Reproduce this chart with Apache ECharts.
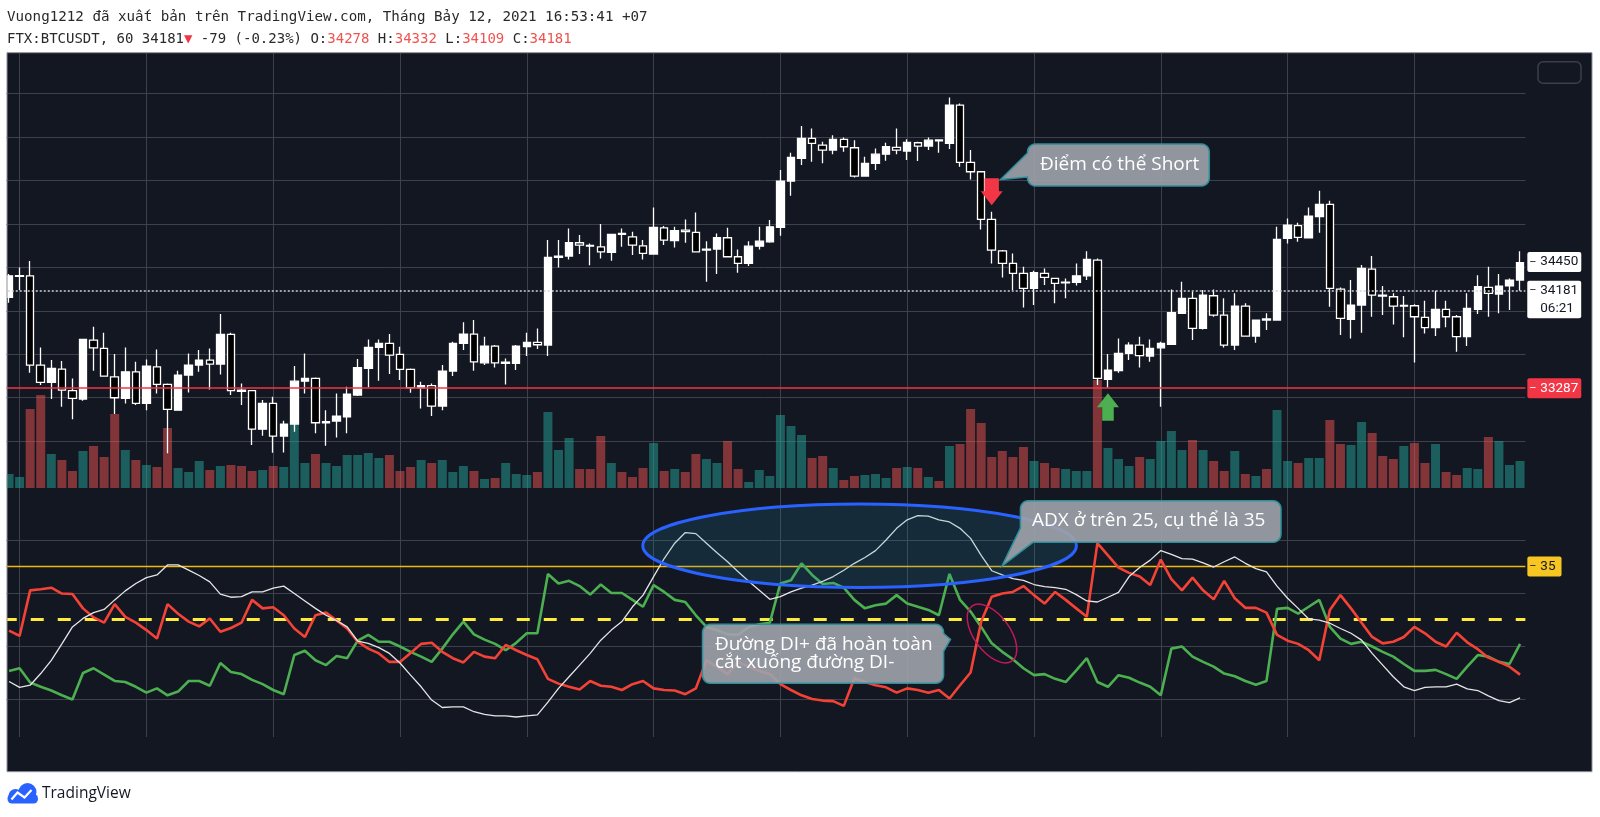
<!DOCTYPE html>
<html><head><meta charset="utf-8">
<script src="https://cdn.jsdelivr.net/npm/echarts@6/dist/echarts.min.js"></script>
<style>html,body{margin:0;padding:0;background:#fff;}#c{width:1600px;height:817px;}</style>
</head><body><div id="c"></div>
<script>
// ---------------- DATA ----------------
const opens = [34123,34316,34322,33500,33340,33463,33264,33187,33730,33653,33392,33193,33438,33147,33484,33322,33085,33408,33500,33546,33509,33782,33270,33264,32910,33147,32846,32957,33352,33377,32969,32984,33024,33224,33469,33662,33699,33598,33460,33291,33310,33122,33445,33699,33785,33521,33675,33515,33515,33669,33708,33684,34491,34503,34626,34602,34589,34537,34712,34681,34598,34522,34764,34645,34743,34721,34559,34568,34672,34497,34436,34595,34635,34767,35194,35403,35587,35525,35479,35578,35501,35240,35357,35442,35504,35470,35547,35516,35574,35541,35894,35366,35280,34841,34552,34436,34344,34206,34344,34298,34258,34261,34322,34467,33368,33448,33607,33684,33583,33659,33690,33976,34114,33837,34138,33960,33684,34043,33767,33926,33914,34666,34783,34672,34866,34979,34200,33920,34052,34384,34144,34129,34043,34046,33939,33844,34012,33945,33761,34012,34215,34154,34230,34282];
const closes = [34322,34322.5,33500,33340,33469,33270,33193,33736,33659,33399,33199,33438,33147,33491,33322,33092,33408,33500,33546,33509,33782,33264,33257,32910,33147,32846,32957,33352,33377,32969,32978,33030,33233,33475,33662,33699,33592,33460,33291,33310,33122,33445,33699,33785,33530,33675,33521,33527,33675,33708,33687,34491,34503,34626,34605,34595,34543,34703,34703,34605,34528,34767,34651,34737,34728,34543,34568,34672,34497,34436,34595,34641,34773,35194,35412,35587,35541,35479,35578,35510,35240,35357,35442,35510,35479,35550,35516,35571,35565,35894,35366,35280,34841,34559,34436,34344,34206,34350,34307,34252,34264,34322,34473,33377,33454,33607,33684,33586,33653,33699,33982,34114,33837,34144,33960,33684,34043,33767,33914,33914.5,34657,34789,34675,34872,34979,34206,33929,34052,34390,34144,34135,34043,34049,33945,33844,34012,33945,33761,34021,34221,34160,34227,34282,34442];
const lows = [34074,34190,33429,33316,33187,33116,33000,33171,33448,33392,33049,33147,33132,33085,33239,32687,33079,33248,33438,33276,33414,33224,33132,32763,32849,32693,32696,32886,33239,32871,32757,32834,32871,33215,33294,33356,33417,33362,33245,33101,33030,33085,33399,33638,33448,33500,33478,33322,33454,33583,33647,33583,34399,34473,34522,34420,34482,34460,34589,34513,34473,34516,34605,34583,34626,34537,34267,34338,34491,34350,34411,34565,34626,34691,35059,35341,35372,35357,35442,35464,35228,35234,35295,35381,35442,35387,35378,35479,35455,35489,35326,35209,34749,34436,34307,34190,34031,34052,34236,34068,34114,34233,34282,33316,33294,33429,33546,33478,33530,33116,33684,33969,33730,33828,33945,33662,33638,33761,33705,33822,33908,34620,34635,34666,34718,34037,33776,33745,33798,33945,33960,33874,33755,33524,33791,33767,33847,33623,33675,33969,33945,33976,34006,34184];
const highs = [34338,34399,34457,33662,33546,33537,33377,33742,33853,33798,33601,33662,33530,33552,33644,33331,33448,33607,33638,33653,33969,33798,33331,33270,33178,33208,32987,33491,33607,33386,33085,33239,33300,33555,33736,33736,33785,33669,33469,33346,33331,33500,33715,33893,33914,33761,33684,33561,33684,33798,33837,34651,34651,34758,34697,34620,34798,34706,34758,34727,34651,34951,34780,34773,34841,34905,34641,34712,34764,34565,34641,34773,34835,35295,35455,35700,35679,35556,35617,35596,35571,35418,35495,35547,35679,35578,35556,35596,35578,35964,35909,35479,35285,34912,34560,34528,34405,34368,34390,34304,34298,34436,34549,34482,33601,33745,33709,33761,33736,33715,34196,34267,34175,34190,34196,34114,34160,34068,33920,33976,34773,34850,34810,34951,35105,35013,34215,34282,34421,34503,34227,34160,34135,34061,34092,34184,34092,33960,34160,34328,34405,34338,34298,34549];
const volumes = [140,110,790,930,340,280,170,370,420,310,740,380,280,230,210,600,200,160,270,180,220,230,220,170,180,220,210,640,250,340,250,220,330,330,350,300,330,170,210,280,250,280,160,220,170,90,100,250,140,130,160,760,380,500,190,190,520,250,160,110,200,450,170,190,160,340,290,250,470,190,60,180,120,730,620,530,300,320,200,80,120,130,140,100,200,210,200,110,70,420,440,790,650,310,370,310,410,270,250,200,190,170,170,1080,400,290,220,310,290,470,570,380,480,380,270,170,370,140,120,190,780,270,250,300,300,680,440,430,660,550,320,290,420,450,250,440,160,130,200,190,510,470,230,270];
const plusDI = [15.3,15.8,13.1,12.3,11.6,10.7,9.9,14.9,15.8,14.6,13.4,13.2,12.3,11.2,12.0,10.7,11.4,13.4,13.4,12.5,16.8,15.1,14.7,13.6,12.8,11.7,10.9,18.3,19.1,17.3,16.4,18.1,17.7,21.0,22.1,20.8,20.8,19.9,18.9,18.0,17.0,19.5,22.2,24.6,22.2,21.2,20.4,19.2,20.6,22.4,22.4,33.6,31.8,32.3,31.3,29.7,31.6,30.0,30.0,28.7,27.4,31.5,30.2,28.7,28.3,25.8,23.6,23.0,22.2,22.1,23.6,24.1,24.4,31.8,32.4,35.6,33.4,31.7,31.9,31.0,28.7,27.1,27.7,28.0,29.6,28.0,27.4,26.8,25.8,33.6,28.7,26.5,23.6,20.5,18.9,17.5,15.8,14.5,14.7,13.8,13.2,15.4,17.7,13.2,12.3,14.5,14.0,13.1,12.3,10.7,19.5,19.9,18.0,17.0,16.1,14.8,14.3,13.4,12.7,13.4,27.0,27.2,26.1,27.4,28.7,23.6,21.4,20.4,20.8,19.9,18.9,18.0,16.6,15.3,15.3,15.5,14.7,13.8,16.1,18.3,18.0,17.0,16.6,20.4];
const minusDI = [22.9,21.9,30.5,30.7,31.0,29.9,29.8,27.1,25.4,24.4,27.9,25.5,24.4,23.0,21.4,27.9,26.1,24.6,23.7,25.2,22.7,23.4,24.4,28.7,27.1,27.3,25.8,23.3,21.7,25.8,26.3,24.8,23.3,20.8,19.5,18.6,17.0,17.0,18.7,20.4,20.6,18.9,17.7,16.9,18.9,18.0,17.7,20.2,19.2,18.3,17.5,13.8,12.9,12.3,11.8,13.4,12.5,12.3,11.7,12.8,13.4,12.0,11.7,11.6,10.9,12.0,17.3,16.1,14.7,17.0,16.1,15.3,14.7,12.8,11.7,10.7,10.0,9.7,9.6,8.7,13.9,13.2,12.6,12.2,11.2,12.0,11.7,11.2,11.7,10.1,12.6,15.0,24.6,29.3,29.9,30.2,31.3,29.6,28.0,30.2,28.7,27.1,25.5,39.4,37.1,34.8,33.8,33.1,31.5,36.3,32.6,30.5,32.9,30.5,28.8,32.3,29.0,27.2,27.2,26.3,22.1,21.0,20.4,19.2,17.3,26.8,29.6,27.1,24.4,21.7,20.5,20.8,21.7,23.6,22.4,20.8,19.9,22.5,20.7,19.4,17.8,17.0,16.1,14.6];
const adx = [13.3,12.2,12.6,14.8,17.3,20.4,23.6,25.2,26.3,26.9,28.7,30.4,31.8,32.9,33.4,35.3,35.3,34.3,33.3,32.1,29.8,29.2,29.3,30.2,30.2,30.9,31.3,29.9,28.5,27.1,25.8,24.8,23.6,20.9,20.5,19.7,18.6,16.8,14.5,12.3,9.8,8.4,8.5,8.5,7.6,7.1,6.8,6.8,6.6,6.8,7.0,9.4,12.0,14.2,16.4,18.6,21.1,23.0,24.6,27.4,29.6,33.1,36.5,39.4,41.4,41.2,39.4,37.6,35.9,34.0,32.2,30.5,28.8,29.3,30.2,30.9,31.5,32.2,33.1,34.3,35.6,36.7,38.0,40.0,42.2,43.8,44.6,44.5,43.8,43.4,42.2,40.3,37.1,34.2,33.4,32.7,32.4,31.6,31.2,31.0,30.7,29.7,28.5,28.3,29.2,30.1,33.1,34.8,36.2,38.0,37.3,36.5,36.4,35.7,34.9,35.9,36.8,35.6,34.6,34.0,31.3,29.0,27.1,25.1,24.9,24.3,23.3,22.4,21.1,18.6,16.4,14.2,12.3,11.6,12.2,12.3,12.3,12.8,11.9,11.6,10.6,9.7,9.3,10.2];
const priceGridLevels = [32800,33200,33600,34000,34400,34800,35200,35600,36000];
const adxGridLevels = [10,20,30,40];
const timeGridIdx = [1,13,25,37,49,61,73,85,97,109,121,133];
const supportLevel = 33287;
const lastPrice = 34181;
const lastPriceTimer = '06:21';
const markedPrice = 34450;
const adxStrong = 35;
const adxTrend = 25;
const shortSignal = {idx: 93, price: 35096};
const bounceSignal = {idx: 104, price: 33114};
const headerLine1 = 'Vuong1212 đã xuất bản trên TradingView.com, Tháng Bảy 12, 2021 16:53:41 +07';
const ohlcHeader = {symbol: 'FTX:BTCUSDT, 60', price: '34181', change: '-79 (-0.23%)', o: '34278', h: '34332', l: '34109', c: '34181'};

// hourly categories ending at 2021-07-12 16:00
const categories = [];
(function(){
  const end = Date.UTC(2021, 6, 12, 16, 0);
  for (let i = 0; i < opens.length; i++) {
    const d = new Date(end - (opens.length - 1 - i) * 3600000);
    categories.push(String(d.getUTCDate()).padStart(2,'0') + ' ' + String(d.getUTCHours()).padStart(2,'0') + ':00');
  }
})();

// ---------------- CHART ----------------
const X_LEFT = 3.75, X_W = 1521.6;
const GRID_COLOR = '#3d414c';
const UP_VOL = 'rgba(38,166,154,0.5)', DOWN_VOL = 'rgba(239,83,80,0.5)';
const candleData = categories.map((_, i) => [opens[i], closes[i], lows[i], highs[i]]);
const blank = categories.map(() => '-');

function boxLabel(text, bg, fg, padRight) {
  return {
    show: true, position: 'end', distance: 2, opacity: 1,
    formatter: '{t|–}{v|' + text + '}',
    backgroundColor: bg, padding: [3, padRight, 3, 2], borderRadius: 2,
    rich: {
      t: {color: fg, fontSize: 11, width: 11, fontFamily: 'Roboto'},
      v: {color: fg, fontSize: 13.5, lineHeight: 14, fontFamily: 'Roboto'}
    }
  };
}

function arc(cx, cy, r, a0, a1) {
  const pts = [];
  for (let k = 0; k <= 6; k++) {
    const a = (a0 + (a1 - a0) * k / 6) * Math.PI / 180;
    pts.push([cx + r * Math.cos(a), cy + r * Math.sin(a)]);
  }
  return pts;
}
const callout1 = [].concat(arc(1035.5,152,8,180,270), arc(1201.3,152,8,270,360), arc(1201.3,178,8,0,90), arc(1035.5,178,8,90,180), [[1027.5,177],[1000.5,179.5],[1027.5,153]]);
const callout2 = [].concat(arc(1028.4,508.7,8,180,270), arc(1273,508.7,8,270,360), arc(1273,534.3,8,0,90), [[1033,542.3],[1002,566],[1020.4,528]]);
const callout3 = [].concat(arc(710.5,632.3,8,180,270), arc(935.6,632.3,8,270,360), [[943.6,633.5],[950.5,639.3],[943.6,651.5]], arc(935.6,675.3,8,0,90), arc(710.5,675.3,8,90,180));

const chart = echarts.init(document.getElementById('c'), null, {renderer: 'canvas'});

const mono = 'DejaVu Sans Mono';
const hdr1 = {fontFamily: mono, fontSize: 14.2, color: '#2a2a2a', lineHeight: 16, fontWeight: 'normal'};
const hdr = {fontFamily: mono, fontSize: 14, color: '#2a2a2a', lineHeight: 16, fontWeight: 'normal'};
const hdrR = Object.assign({}, hdr, {color: '#ef5350'});

const calloutFill = 'rgba(160,163,172,0.9)';
const calloutStroke = '#2d8f9c';
const calloutFont = {fontSize: 19, fontFamily: 'Open Sans', fill: '#ffffff'};

const option = {
  animation: false,
  backgroundColor: '#ffffff',
  title: [
    {text: headerLine1, left: 7, top: 9.5, padding: 0, textStyle: hdr1},
    {text: '{a|' + ohlcHeader.symbol + ' ' + ohlcHeader.price + '}{tri|▼}{a| ' + ohlcHeader.change + ' O:}{r|' + ohlcHeader.o + '}{a| H:}{r|' + ohlcHeader.h + '}{a| L:}{r|' + ohlcHeader.l + '}{a| C:}{r|' + ohlcHeader.c + '}',
     left: 7, top: 31.5, padding: 0,
     textStyle: {fontWeight: 'normal', rich: {a: hdr, r: hdrR, tri: Object.assign({}, hdr, {color: '#f23645'})}}}
  ],
  grid: [
    {left: X_LEFT, width: X_W, top: 52.7, height: 435.3},
    {left: X_LEFT, width: X_W, top: 288, height: 200},
    {left: X_LEFT, width: X_W, top: 488, height: 249}
  ],
  xAxis: [0, 1, 2].map(g => ({type: 'category', gridIndex: g, data: categories, boundaryGap: true, show: false})),
  yAxis: [
    {type: 'value', gridIndex: 0, min: 32368, max: 36376, show: false, splitLine: {show: false}},
    {type: 'value', gridIndex: 1, min: 0, max: 2000, show: false, splitLine: {show: false}},
    {type: 'value', gridIndex: 2, min: 2.83, max: 49.81, show: false, splitLine: {show: false}}
  ],
  graphic: [
    {type: 'rect', z: 0, silent: true, shape: {x: 7, y: 52.7, width: 1585, height: 719}, style: {fill: '#131722'}},
    {type: 'rect', z: 90, silent: true, shape: {x: 0, y: 45, width: 6.5, height: 735}, style: {fill: '#ffffff'}},
    {type: 'rect', z: 91, silent: true, shape: {x: 7, y: 52.7, width: 1585, height: 719}, style: {fill: 'none', stroke: '#8e919a', lineWidth: 1}},
    {type: 'rect', z: 60, silent: true, shape: {x: 1538, y: 61.7, width: 43, height: 21.6, r: 5}, style: {fill: 'none', stroke: '#3b3f4a', lineWidth: 1.5}},
    {type: 'ellipse', z: 60, silent: true, shape: {cx: 859.6, cy: 545.7, rx: 216.8, ry: 41.7}, style: {fill: 'rgba(40,140,170,0.17)', stroke: '#2962ff', lineWidth: 3}},
    {type: 'ellipse', z: 60, silent: true, x: 992, y: 633.5, rotation: 0.63, shape: {cx: 0, cy: 0, rx: 18, ry: 34}, style: {fill: 'none', stroke: '#c2185b', lineWidth: 1.5}},
    {type: 'polygon', z: 80, silent: true, shape: {points: callout1}, style: {fill: calloutFill, stroke: calloutStroke, lineWidth: 1.5}},
    {type: 'text', z: 81, silent: true, x: 1040, y: 165, style: Object.assign({text: 'Điểm có thể Short', verticalAlign: 'middle', align: 'left'}, calloutFont)},
    {type: 'polygon', z: 80, silent: true, shape: {points: callout2}, style: {fill: calloutFill, stroke: calloutStroke, lineWidth: 1.5}},
    {type: 'text', z: 81, silent: true, x: 1032, y: 520.5, style: Object.assign({text: 'ADX ở trên 25, cụ thể là 35', verticalAlign: 'middle', align: 'left'}, calloutFont)},
    {type: 'polygon', z: 80, silent: true, shape: {points: callout3}, style: {fill: calloutFill, stroke: calloutStroke, lineWidth: 1.5}},
    {type: 'text', z: 81, silent: true, x: 715, y: 645, style: Object.assign({text: 'Đường DI+ đã hoàn toàn', verticalAlign: 'middle', align: 'left'}, calloutFont)},
    {type: 'text', z: 81, silent: true, x: 715, y: 663, style: Object.assign({text: 'cắt xuống đường DI-', verticalAlign: 'middle', align: 'left'}, calloutFont)},
    // TradingView logo
    {type: 'circle', z: 10, silent: true, shape: {cx: 15.5, cy: 796, r: 7}, style: {fill: '#2962ff'}},
    {type: 'circle', z: 10, silent: true, shape: {cx: 27.5, cy: 792, r: 9}, style: {fill: '#2962ff'}},
    {type: 'rect', z: 10, silent: true, shape: {x: 7.5, y: 794, width: 30.5, height: 9.5, r: 4.5}, style: {fill: '#2962ff'}},
    {type: 'polyline', z: 11, silent: true, shape: {points: [[11.5, 799.5], [17.5, 792.5], [24.5, 797.5], [31.5, 790]]}, style: {stroke: '#ffffff', lineWidth: 2.2, fill: 'none'}},
    {type: 'text', z: 10, silent: true, x: 42, y: 794, style: {text: 'TradingView', fontSize: 15.5, fontFamily: 'Open Sans', fill: '#131722', verticalAlign: 'middle', align: 'left'}}
  ],
  series: [
    {
      name: 'Volume', type: 'bar', xAxisIndex: 1, yAxisIndex: 1, data: volumes, barWidth: 9, z: 2,
      itemStyle: {color: p => closes[p.dataIndex] >= opens[p.dataIndex] ? UP_VOL : DOWN_VOL}
    },
    {
      name: 'priceGrid', type: 'line', xAxisIndex: 0, yAxisIndex: 0, data: blank, symbol: 'none', silent: true,
      lineStyle: {width: 0, color: 'rgba(0,0,0,0)'},
      markLine: {
        z: 1, silent: true, symbol: ['none', 'none'], label: {show: false},
        lineStyle: {color: GRID_COLOR, width: 1, type: 'solid'},
        data: priceGridLevels.map(v => ({yAxis: v})).concat(timeGridIdx.map(i => ({xAxis: i})))
      }
    },
    {
      name: 'FTX:BTCUSDT', type: 'candlestick', xAxisIndex: 0, yAxisIndex: 0, data: candleData, barWidth: 8, z: 3,
      itemStyle: {color: '#ffffff', color0: '#000000', borderColor: '#ffffff', borderColor0: '#ffffff', borderWidth: 1.3},
      markLine: {
        silent: true, symbol: ['none', 'none'],
        data: [
          {yAxis: supportLevel, lineStyle: {color: '#f23645', width: 1.5, type: 'solid'}, label: boxLabel(String(supportLevel), '#f23645', '#ffffff', 3)},
          {yAxis: lastPrice, lineStyle: {color: '#d1d4dc', width: 1.5, type: [2, 2]}, label: {show: false}},
          {yAxis: markedPrice, lineStyle: {color: 'rgba(0,0,0,0)', width: 0}, label: boxLabel(String(markedPrice), '#ffffff', '#131722', 3)}
        ]
      },
      markPoint: {
        silent: true,
        data: [
          {coord: [shortSignal.idx, shortSignal.price], symbol: 'path://M4,0 L19,0 L19,13 L23,13 L11.5,27 L0,13 L4,13 Z', symbolSize: [22, 27], itemStyle: {color: '#f23645'}, label: {show: false}},
          {coord: [bounceSignal.idx, bounceSignal.price], symbol: 'path://M11,0 L22,14 L16.8,14 L16.8,27.5 L5.2,27.5 L5.2,14 L0,14 Z', symbolSize: [22, 27.5], itemStyle: {color: '#4caf50'}, label: {show: false}},
          {coord: [categories.length - 1, lastPrice], symbol: 'rect', symbolSize: 1, itemStyle: {color: 'rgba(0,0,0,0)'},
           label: {show: true, position: [7.7, -9.9], align: 'left', verticalAlign: 'top',
             formatter: '{t|–}{v|' + lastPrice + '}\n{t|}{v|' + lastPriceTimer + '}',
             backgroundColor: '#ffffff', padding: [1.2, 3, 1.2, 2], borderRadius: 2,
             rich: {t: {color: '#131722', fontSize: 11, width: 11, fontFamily: 'Roboto'}, v: {color: '#131722', fontSize: 13.5, lineHeight: 17.6, fontFamily: 'Roboto'}}}}
        ]
      }
    },
    {
      name: 'ADX', type: 'line', xAxisIndex: 2, yAxisIndex: 2, data: adx, showSymbol: false, symbol: 'none', z: 4,
      lineStyle: {color: '#e6e6e6', width: 1.3},
      markLine: {
        z: 1, silent: true, symbol: ['none', 'none'], label: {show: false},
        lineStyle: {color: GRID_COLOR, width: 1, type: 'solid'},
        data: adxGridLevels.map(v => ({yAxis: v})).concat(timeGridIdx.map(i => ({xAxis: i})))
      }
    },
    {
      name: 'DI+', type: 'line', xAxisIndex: 2, yAxisIndex: 2, data: plusDI, showSymbol: false, symbol: 'none', z: 3,
      lineStyle: {color: '#4caf50', width: 2.6},
      markLine: {
        z: 1.5, silent: true, symbol: ['none', 'none'],
        data: [
          {yAxis: adxStrong, lineStyle: {color: '#f0b90b', width: 1.3, type: 'solid', opacity: 1}, label: boxLabel(String(adxStrong), '#f7c623', '#131722', 6)},
          {yAxis: adxTrend, lineStyle: {color: '#ffeb3b', width: 3, type: [13, 14]}, label: {show: false}}
        ]
      }
    },
    {
      name: 'DI-', type: 'line', xAxisIndex: 2, yAxisIndex: 2, data: minusDI, showSymbol: false, symbol: 'none', z: 3,
      lineStyle: {color: '#f44336', width: 2.6}
    }
  ]
};
chart.setOption(option);
</script>
</body></html>
